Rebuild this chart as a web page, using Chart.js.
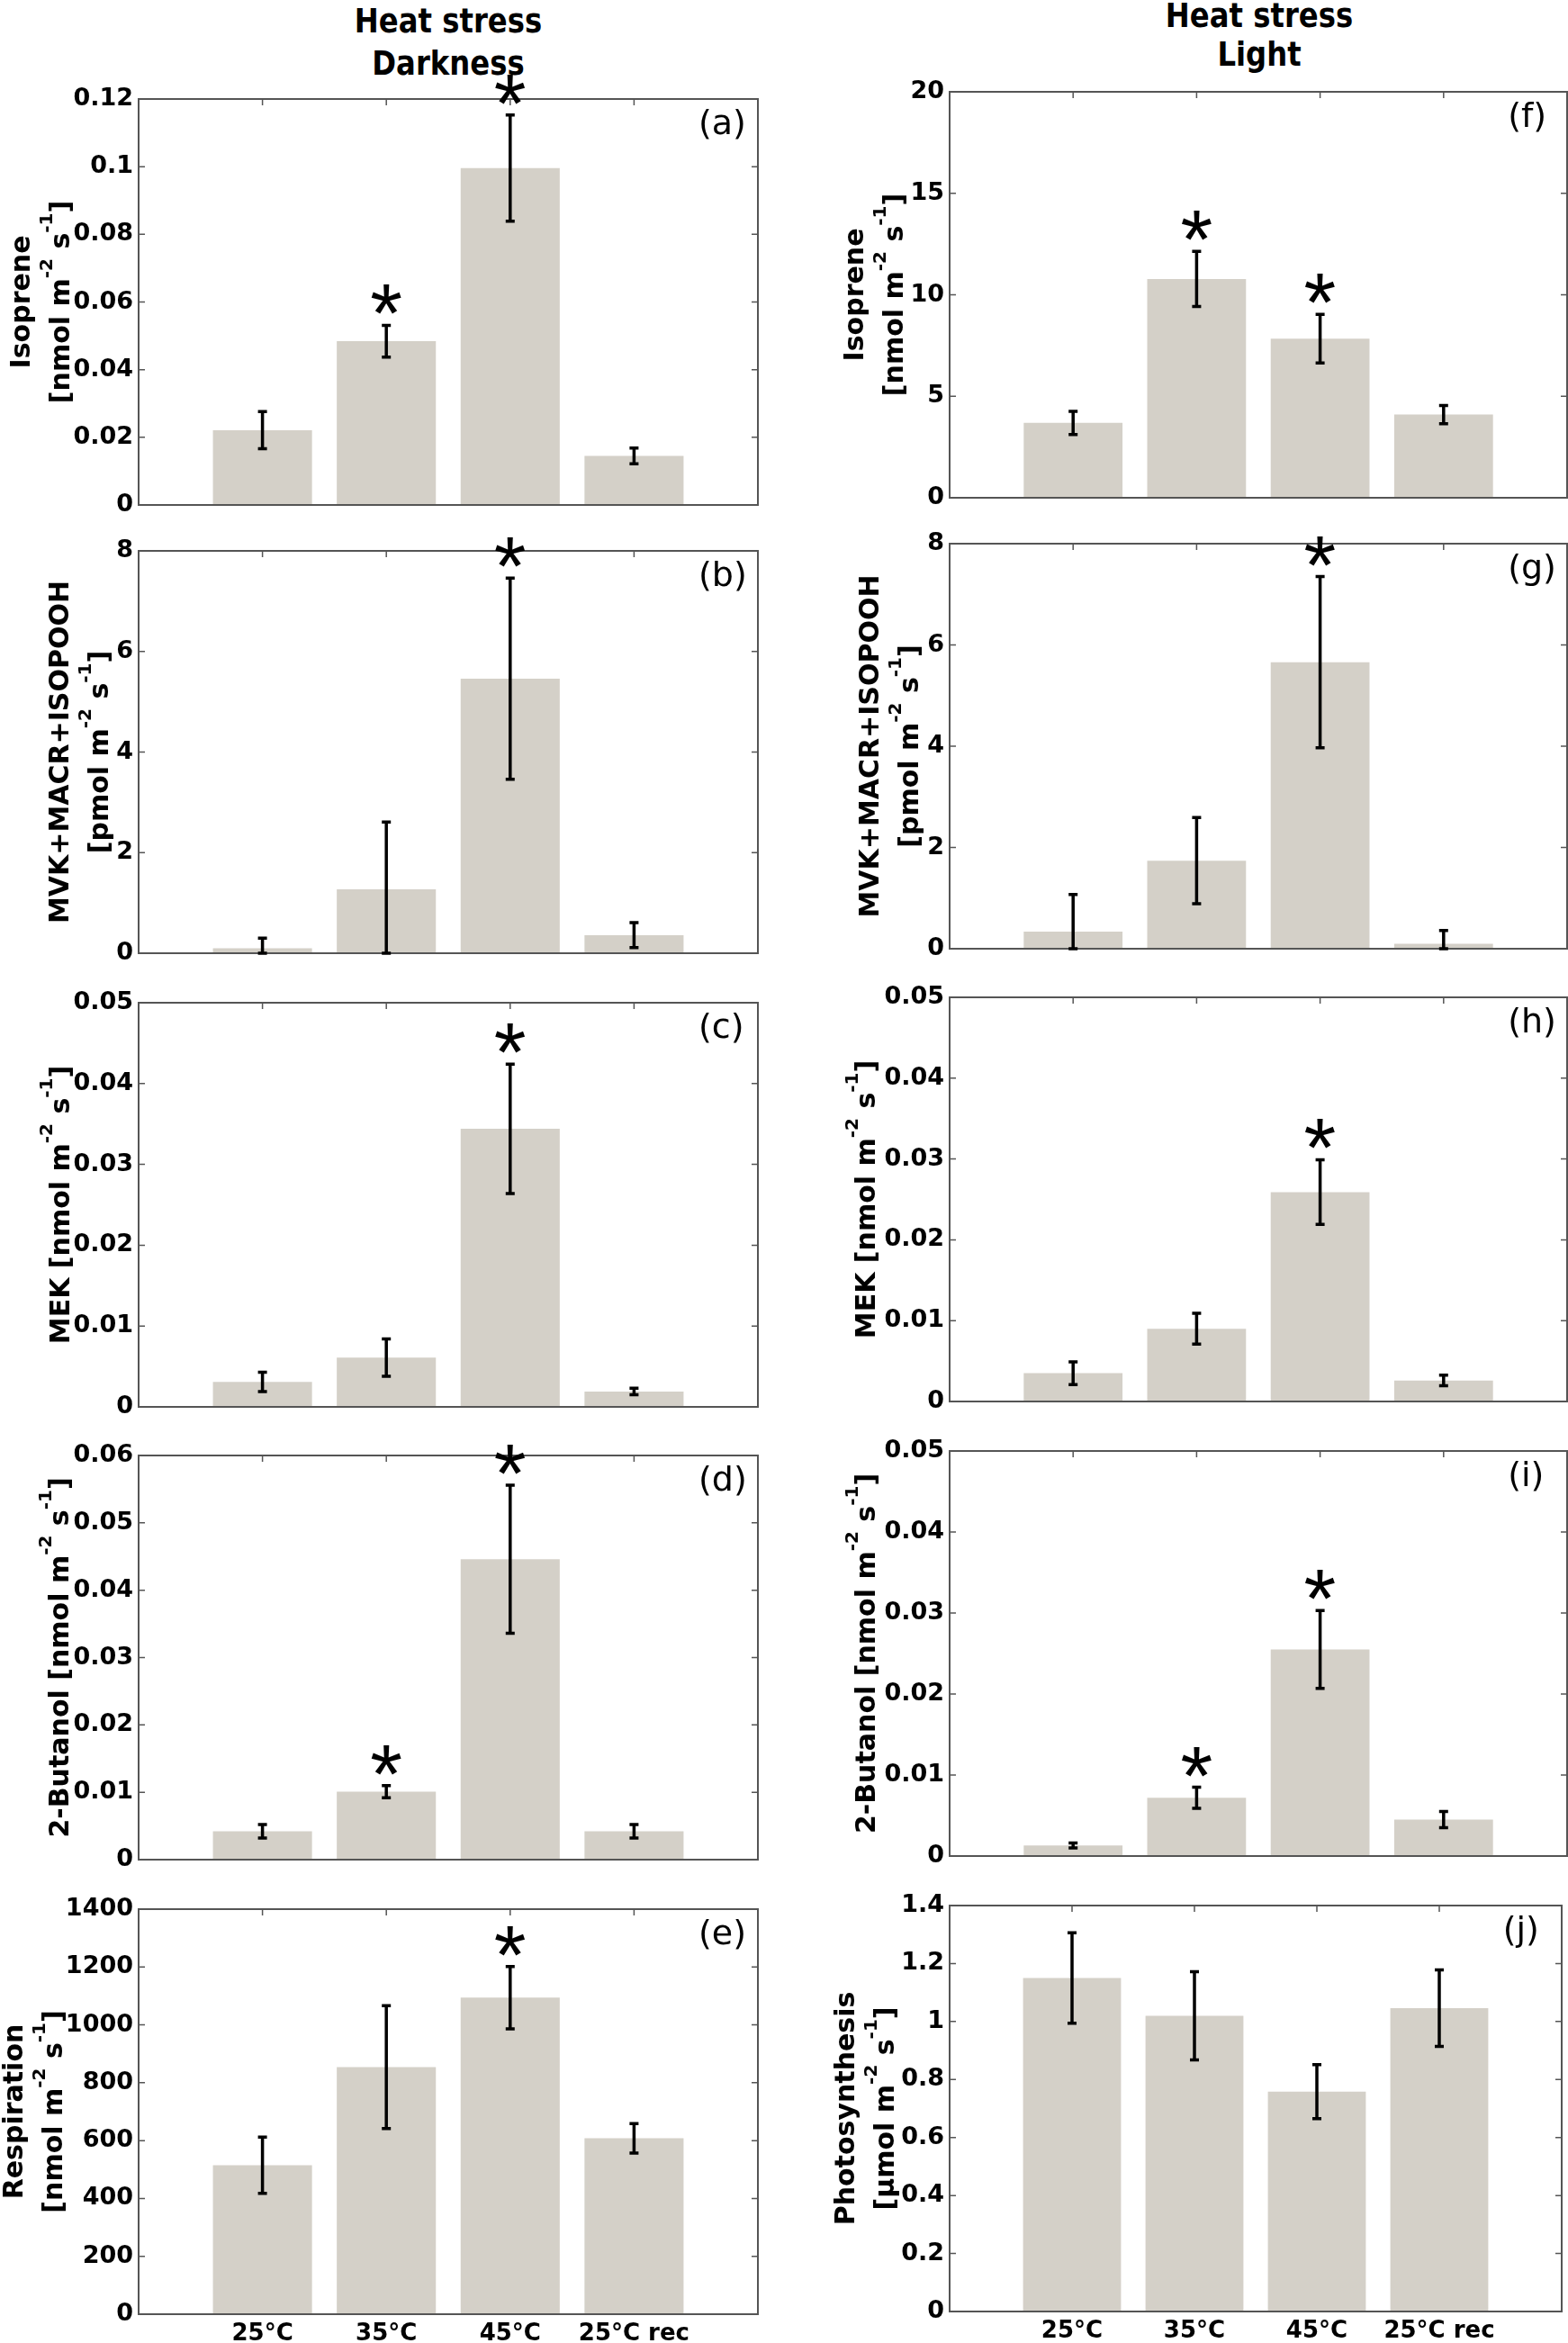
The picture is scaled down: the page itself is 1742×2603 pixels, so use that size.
<!DOCTYPE html>
<html>
<head>
<meta charset="utf-8">
<script src="https://cdn.jsdelivr.net/npm/chart.js@4.4.1/dist/chart.umd.min.js"></script>
<style>
  html, body { margin: 0; padding: 0; background: #fff; width: 1742px; height: 2603px; overflow: hidden; }
  .head { position: absolute; width: 600px; text-align: center; font: bold 38px "DejaVu Sans"; line-height: 38px; color: #000; transform: scaleX(0.85); }
  canvas { position: absolute; }
</style>
</head>
<body>
<div class="head" style="left:198px;top:4px">Heat stress</div>
<div class="head" style="left:198px;top:51px">Darkness</div>
<div class="head" style="left:1099px;top:-2px">Heat stress</div>
<div class="head" style="left:1099px;top:41px">Light</div>
<script>
const categories = ['25°C', '35°C', '45°C', '25°C rec'];

// heat stress, darkness (a)-(e)
const isopreneDark = [0.0221, 0.0484, 0.0996, 0.0145];
const isopreneDarkErr = [0.0055, 0.0047, 0.0157, 0.0023];
const mvkDark = [0.10, 1.27, 5.46, 0.36];
const mvkDarkErr = [0.20, 1.34, 2.00, 0.25];
const mekDark = [0.0031, 0.0061, 0.0344, 0.0019];
const mekDarkErr = [0.0012, 0.0023, 0.0080, 0.0004];
const butanolDark = [0.0042, 0.0101, 0.0446, 0.0042];
const butanolDarkErr = [0.0010, 0.0009, 0.0110, 0.0010];
const respiration = [515, 854, 1094, 608];
const respirationErr = [97, 212, 108, 51];

// heat stress, light (f)-(j)
const isopreneLight = [3.69, 10.78, 7.84, 4.10];
const isopreneLightErr = [0.57, 1.36, 1.20, 0.45];
const mvkLight = [0.34, 1.74, 5.66, 0.10];
const mvkLightErr = [0.73, 0.85, 1.69, 0.26];
const mekLight = [0.0035, 0.0090, 0.0259, 0.0026];
const mekLightErr = [0.0014, 0.0019, 0.0040, 0.00065];
const butanolLight = [0.0013, 0.0072, 0.0255, 0.0045];
const butanolLightErr = [0.0003, 0.0013, 0.0048, 0.0010];
const photosynthesis = [1.150, 1.020, 0.758, 1.046];
const photosynthesisErr = [0.156, 0.152, 0.093, 0.132];

// significant difference marks (asterisk)
const sigA = [false, true, true, false];
const sigB = [false, false, true, false];
const sigC = [false, false, true, false];
const sigD = [false, true, true, false];
const sigE = [false, false, true, false];
const sigF = [false, true, true, false];
const sigG = [false, false, true, false];
const sigH = [false, false, true, false];
const sigI = [false, true, true, false];
const sigJ = [false, false, false, false];

// y tick values
const ticksIsopreneDark = [0, 0.02, 0.04, 0.06, 0.08, 0.1, 0.12];
const ticksMvk = [0, 2, 4, 6, 8];
const ticksMek = [0, 0.01, 0.02, 0.03, 0.04, 0.05];
const ticksButanolDark = [0, 0.01, 0.02, 0.03, 0.04, 0.05, 0.06];
const ticksRespiration = [0, 200, 400, 600, 800, 1000, 1200, 1400];
const ticksIsopreneLight = [0, 5, 10, 15, 20];
const ticksPhotosynthesis = [0, 0.2, 0.4, 0.6, 0.8, 1, 1.2, 1.4];

// ^{..} marks a superscript
const unitN = '[nmol m^{-2} s^{-1}]';
const unitP = '[pmol m^{-2} s^{-1}]';
const unitU = '[μmol m^{-2} s^{-1}]';

const barColor = '#d4d0c8';
const axisColor = '#555';
const FONT = '"DejaVu Sans"';
const titleFont = 'bold 30px ' + FONT;
const supFont = 'bold 20px ' + FONT;

const columns = [
  { left: 0, width: 870, axisWidth: 154, padRight: 28 },
  { left: 870, width: 872, axisWidth: 185, padRight: 1 }
];

const panels = [
  { letter: '(a)', col: 0, top: 110, bottom: 561, values: isopreneDark, errors: isopreneDarkErr, sig: sigA, ticks: ticksIsopreneDark, title: ['Isoprene', unitN], titleBase: 33 },
  { letter: '(b)', col: 0, top: 612, bottom: 1059, values: mvkDark, errors: mvkDarkErr, sig: sigB, ticks: ticksMvk, title: ['MVK+MACR+ISOPOOH', unitP], titleBase: 76 },
  { letter: '(c)', col: 0, top: 1114, bottom: 1563, values: mekDark, errors: mekDarkErr, sig: sigC, ticks: ticksMek, title: ['MEK ' + unitN], titleBase: 77 },
  { letter: '(d)', col: 0, top: 1617, bottom: 2066, values: butanolDark, errors: butanolDarkErr, sig: sigD, ticks: ticksButanolDark, title: ['2-Butanol ' + unitN], titleBase: 76 },
  { letter: '(e)', col: 0, top: 2121, bottom: 2571, values: respiration, errors: respirationErr, sig: sigE, ticks: ticksRespiration, title: ['Respiration', unitN], titleBase: 25, xLabels: true },
  { letter: '(f)', col: 1, top: 102, bottom: 553, values: isopreneLight, errors: isopreneLightErr, sig: sigF, ticks: ticksIsopreneLight, title: ['Isoprene', unitN], titleBase: 89 },
  { letter: '(g)', col: 1, top: 604, bottom: 1054, values: mvkLight, errors: mvkLightErr, sig: sigG, ticks: ticksMvk, title: ['MVK+MACR+ISOPOOH', unitP], titleBase: 106 },
  { letter: '(h)', col: 1, top: 1108, bottom: 1557, values: mekLight, errors: mekLightErr, sig: sigH, ticks: ticksMek, title: ['MEK ' + unitN], titleBase: 102 },
  { letter: '(i)', col: 1, top: 1612, bottom: 2062, values: butanolLight, errors: butanolLightErr, sig: sigI, ticks: ticksMek, title: ['2-Butanol ' + unitN], titleBase: 102 },
  { letter: '(j)', col: 1, top: 2117, bottom: 2568, values: photosynthesis, errors: photosynthesisErr, sig: sigJ, ticks: ticksPhotosynthesis, title: ['Photosynthesis', unitU], titleBase: 79, xLabels: true }
];

// rotated y title with superscripts, one line per array entry
function drawYTitle(ctx, lines, base, cy) {
  ctx.save();
  ctx.fillStyle = '#000';
  ctx.textAlign = 'left';
  ctx.textBaseline = 'alphabetic';
  lines.forEach((line, i) => {
    const segs = line.split(/(\^\{[^}]*\})/).filter(s => s).map(s =>
      s.startsWith('^{') ? { t: s.slice(2, -1), sup: true } : { t: s, sup: false });
    let total = 0;
    segs.forEach(s => { ctx.font = s.sup ? supFont : titleFont; s.w = ctx.measureText(s.t).width; total += s.w; });
    ctx.save();
    ctx.translate(base + i * 44, cy);
    ctx.rotate(-Math.PI / 2);
    let u = -total / 2;
    segs.forEach(s => {
      ctx.font = s.sup ? supFont : titleFont;
      ctx.fillText(s.t, u, s.sup ? -19 : 0);
      u += s.w;
    });
    ctx.restore();
  });
  ctx.restore();
}

// box, inward ticks, error bars, asterisks, panel letter and y title
const panelDecor = {
  id: 'panelDecor',
  beforeDatasetsDraw(chart) {
    const { ctx, chartArea: a, scales: { x, y } } = chart;
    ctx.save();
    ctx.strokeStyle = axisColor;
    ctx.lineWidth = 1.5;
    ctx.beginPath();
    y.ticks.forEach(t => {
      const py = y.getPixelForValue(t.value);
      ctx.moveTo(a.left, py); ctx.lineTo(a.left + 7, py);
      ctx.moveTo(a.right, py); ctx.lineTo(a.right - 7, py);
    });
    categories.forEach((c, i) => {
      const px = x.getPixelForValue(i + 1);
      ctx.moveTo(px, a.top); ctx.lineTo(px, a.top + 7);
      ctx.moveTo(px, a.bottom); ctx.lineTo(px, a.bottom - 7);
    });
    ctx.stroke();
    ctx.restore();
  },
  afterDatasetsDraw(chart, args, opts) {
    const { ctx, chartArea: a, scales: { x, y } } = chart;
    ctx.save();
    ctx.strokeStyle = axisColor;
    ctx.lineWidth = 2;
    ctx.strokeRect(a.left, a.top, a.right - a.left, a.bottom - a.top);

    // star font sized so the glyph is about 34px wide
    ctx.font = '100px "Liberation Sans"';
    const m0 = ctx.measureText('*');
    const starSize = 100 * 34 / (m0.actualBoundingBoxRight + m0.actualBoundingBoxLeft);
    ctx.font = starSize + 'px "Liberation Sans"';
    const m = ctx.measureText('*');

    opts.values.forEach((v, i) => {
      const px = x.getPixelForValue(i + 1);
      const hi = y.getPixelForValue(v + opts.errors[i]);
      const lo = y.getPixelForValue(Math.max(v - opts.errors[i], y.min));
      ctx.strokeStyle = '#000';
      ctx.lineWidth = 3.5;
      ctx.beginPath();
      ctx.moveTo(px, hi); ctx.lineTo(px, lo);
      ctx.moveTo(px - 5, hi); ctx.lineTo(px + 5, hi);
      ctx.moveTo(px - 5, lo); ctx.lineTo(px + 5, lo);
      ctx.stroke();
      if (opts.sig[i]) {
        ctx.fillStyle = '#000';
        ctx.textAlign = 'left';
        ctx.textBaseline = 'alphabetic';
        const bx = px - (m.actualBoundingBoxRight - m.actualBoundingBoxLeft) / 2;
        const by = hi - 12 - m.actualBoundingBoxDescent;
        ctx.fillText('*', bx, by);
      }
    });

    ctx.fillStyle = '#000';
    ctx.font = '38px ' + FONT;
    ctx.textAlign = 'left';
    ctx.textBaseline = 'middle';
    ctx.fillText(opts.letter, a.left + 0.904 * (a.right - a.left), a.top + 29);
    ctx.restore();

    drawYTitle(ctx, opts.title, opts.titleBase, (a.top + a.bottom) / 2);
  }
};

function makePanel(p) {
  const col = columns[p.col];
  const canvas = document.createElement('canvas');
  const top = p.top - 60;
  const height = p.bottom - p.top + 100;
  canvas.width = col.width;
  canvas.height = height;
  canvas.style.left = col.left + 'px';
  canvas.style.top = top + 'px';
  canvas.style.width = col.width + 'px';
  canvas.style.height = height + 'px';
  document.body.appendChild(canvas);

  const bottomRow = !!p.xLabels;
  new Chart(canvas, {
    type: 'bar',
    data: {
      labels: ['', ...categories, ''],
      datasets: [{
        data: [null, ...p.values, null],
        backgroundColor: barColor,
        borderWidth: 0,
        barPercentage: 0.8,
        categoryPercentage: 1
      }]
    },
    options: {
      responsive: false,
      animation: false,
      devicePixelRatio: 1,
      layout: { padding: { top: 60, right: col.padRight, bottom: bottomRow ? 0 : 40, left: 0 } },
      plugins: {
        legend: { display: false },
        tooltip: { enabled: false },
        panelDecor: { values: p.values, errors: p.errors, sig: p.sig, letter: p.letter, title: p.title, titleBase: p.titleBase }
      },
      scales: {
        x: {
          offset: false,
          grid: { display: false, drawTicks: false },
          border: { display: false },
          ticks: {
            display: bottomRow, autoSkip: false, maxRotation: 0, minRotation: 0,
            color: '#000', padding: 7, font: { family: FONT, size: 26, weight: 'bold' }
          },
          afterFit: s => { s.height = bottomRow ? 40 : 0; }
        },
        y: {
          min: 0,
          max: p.ticks[p.ticks.length - 1],
          grid: { display: false, drawTicks: false },
          border: { display: false },
          afterBuildTicks: s => { s.ticks = p.ticks.map(v => ({ value: v })); },
          ticks: {
            color: '#000', padding: 6,
            font: { family: FONT, size: 27, weight: 'bold' },
            callback: v => String(v)
          },
          title: { display: false },
          afterFit: s => { s.width = col.axisWidth; }
        }
      }
    },
    plugins: [panelDecor]
  });
}

panels.forEach(makePanel);
</script>
</body>
</html>
